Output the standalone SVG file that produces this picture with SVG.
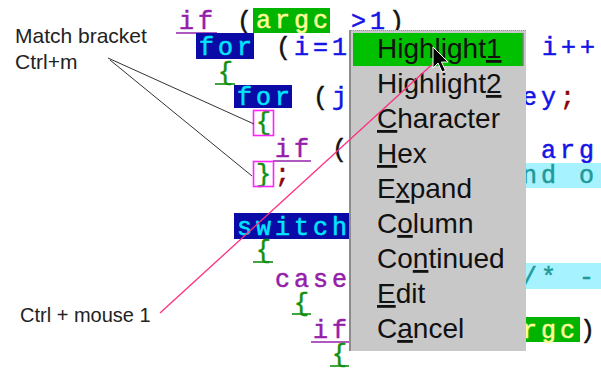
<svg xmlns="http://www.w3.org/2000/svg" width="601" height="369" viewBox="0 0 601 369">
<style>
.code{font-family:"Liberation Mono","DejaVu Sans Mono",monospace;font-size:25px;letter-spacing:4px;stroke-width:0.5px}
.kw{fill:#9420aa;stroke:#9420aa}
.num{fill:#1414e6;stroke:#1414e6}
.blk{fill:#111;stroke:#111}
.brace{fill:#109010;stroke:#109010}
.cy{fill:#00e6ff;stroke:#00e6ff}
.yel{fill:#ffff99;stroke:#ffff99}
.teal{fill:#229999;stroke:#229999}
.semi{fill:#8b0000;stroke:#8b0000}
.navy{fill:#0a0aa6}
.gbox{fill:#00b400}
.cbox{fill:#a6f2ff}
.mbox{fill:none;stroke:#ff22ff;stroke-width:1.6}
.ul-kw{stroke:#9420aa;stroke-width:1.6}
.ul-br{stroke:#109010;stroke-width:1.6}
.lbl{font-family:"Liberation Sans",Arial,sans-serif;fill:#222}
.mi{font-family:"Liberation Sans",Arial,sans-serif;font-size:28px;fill:#111}
.conn{stroke:#333;stroke-width:1;fill:none}
.mouse{stroke:#ff2d80;stroke-width:1.3;fill:none}
</style>

<g id="code">
  <!-- row 1 -->
  <text class="code kw" x="179" y="29">if</text>
  <line class="ul-kw" x1="176" y1="33" x2="217" y2="33"/>
  <text class="code blk" x="237" y="29">(</text>
  <rect class="gbox" x="253" y="8" width="77" height="25"/>
  <text class="code yel" x="256" y="28">argc</text>
  <text class="code num" x="351" y="29">&gt;1</text>
  <text class="code blk" x="389" y="29">)</text>
  <!-- row 2 -->
  <rect class="navy" x="196" y="33" width="58" height="26"/>
  <text class="code cy" x="199" y="55">for</text>
  <text class="code blk" x="276" y="55">(</text>
  <text class="code num" x="294" y="55">i=1</text>
  <text class="code num" x="542" y="55">i++</text>
  <!-- row 3 -->
  <text class="code brace" x="218" y="80">{</text>
  <line class="ul-br" x1="215" y1="84" x2="235" y2="84"/>
  <!-- row 4 -->
  <rect class="navy" x="234" y="85" width="58" height="23"/>
  <text class="code cy" x="237" y="105">for</text>
  <text class="code blk" x="313" y="105">(</text>
  <text class="code num" x="332" y="105">j</text>
  <text class="code num" x="522" y="105">ey</text>
  <text class="code semi" x="560" y="105">;</text>
  <!-- row 5 -->
  <text class="code brace" x="256" y="130">{</text>
  <rect class="mbox" x="253.5" y="110.5" width="20" height="25"/>
  <!-- row 6 -->
  <text class="code kw" x="275" y="157">if</text>
  <line class="ul-kw" x1="273" y1="161" x2="311" y2="161"/>
  <text class="code blk" x="332" y="157">(</text>
  <text class="code num" x="541" y="158">arg</text>
  <!-- row 7 -->
  <text class="code brace" x="256" y="182">}</text>
  <rect class="mbox" x="253.5" y="161.5" width="20" height="25"/>
  <text class="code semi" x="275" y="182">;</text>
  <rect class="cbox" x="520" y="163" width="81" height="25"/>
  <text class="code teal" x="522" y="183">nd o</text>
  <!-- row 9 -->
  <rect class="navy" x="234" y="213" width="116" height="26"/>
  <text class="code cy" x="237" y="235">switch</text>
  <!-- row 10 -->
  <text class="code brace" x="256" y="258">{</text>
  <line class="ul-br" x1="253" y1="262" x2="273" y2="262"/>
  <!-- row 11 -->
  <text class="code kw" x="275" y="287">case</text>
  <rect class="cbox" x="520" y="263" width="81" height="26"/>
  <text class="code teal" x="522" y="285">/* -</text>
  <!-- row 12 -->
  <text class="code brace" x="294" y="311">{</text>
  <line class="ul-br" x1="292" y1="314" x2="311" y2="314"/>
  <!-- row 13 -->
  <text class="code kw" x="313" y="338">if</text>
  <line class="ul-kw" x1="311" y1="342" x2="349" y2="342"/>
  <rect class="gbox" x="520" y="317" width="60" height="25"/>
  <text class="code yel" x="522" y="338">rgc</text>
  <text class="code blk" x="580" y="338">)</text>
  <!-- row 14 -->
  <text class="code brace" x="332" y="362">{</text>
  <line class="ul-br" x1="330" y1="366" x2="349" y2="366"/>
</g>

<g id="menu">
  <rect x="349" y="30" width="177" height="321" fill="#c8c8c8"/>
  <line x1="350" y1="30" x2="350" y2="351" stroke="#8c8c8c" stroke-width="2"/>
  <line x1="349" y1="30.5" x2="526" y2="30.5" stroke="#9a9a9a" stroke-width="1" stroke-dasharray="1 1"/>
  <rect x="353" y="33" width="170" height="33" fill="#00c000"/>
  <line x1="523" y1="33" x2="523" y2="66" stroke="#6a8a6a" stroke-width="1.5"/>
  <text class="mi" x="377" y="58">Highlight<tspan text-decoration="underline">1</tspan></text>
  <text class="mi" x="377" y="93">Highlight<tspan text-decoration="underline">2</tspan></text>
  <text class="mi" x="377" y="128"><tspan text-decoration="underline">C</tspan>haracter</text>
  <text class="mi" x="377" y="163"><tspan text-decoration="underline">H</tspan>ex</text>
  <text class="mi" x="377" y="198">E<tspan text-decoration="underline">x</tspan>pand</text>
  <text class="mi" x="377" y="233">C<tspan text-decoration="underline">o</tspan>lumn</text>
  <text class="mi" x="377" y="268">Co<tspan text-decoration="underline">n</tspan>tinued</text>
  <text class="mi" x="377" y="303"><tspan text-decoration="underline">E</tspan>dit</text>
  <text class="mi" x="377" y="338">C<tspan text-decoration="underline">a</tspan>ncel</text>
</g>

<g id="label-match">
  <text class="lbl" x="15" y="43" font-size="21">Match bracket</text>
  <text class="lbl" x="15" y="69" font-size="21">Ctrl+m</text>
</g>
<g id="label-mouse">
  <text class="lbl" x="20" y="322" font-size="20">Ctrl + mouse 1</text>
</g>

<g id="connectors">
  <line class="conn" x1="108" y1="58" x2="254" y2="124"/>
  <line class="conn" x1="110" y1="60" x2="252" y2="176"/>
  <line class="mouse" x1="160" y1="313" x2="437" y2="60"/>
</g>

<g id="cursor">
  <path d="M433,47 L433,68 L438,63 L442,72 L445.5,70.5 L441.5,62 L448,62 Z" fill="#000" stroke="#fff" stroke-width="1"/>
</g>
</svg>
